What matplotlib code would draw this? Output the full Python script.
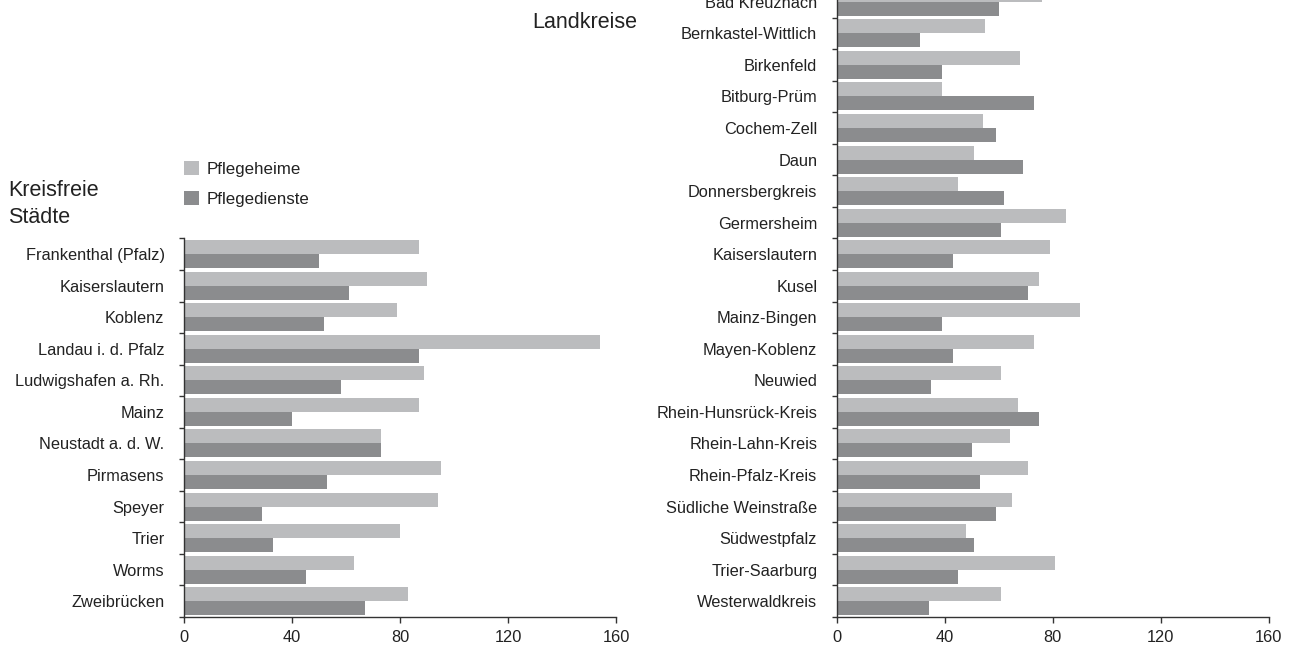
import numpy as np
import matplotlib.pyplot as plt

plt.rcParams['font.family'] = ['Liberation Sans', 'DejaVu Sans']

staedte = ['Frankenthal (Pfalz)', 'Kaiserslautern', 'Koblenz', 'Landau i. d. Pfalz',
           'Ludwigshafen a. Rh.', 'Mainz', 'Neustadt a. d. W.', 'Pirmasens',
           'Speyer', 'Trier', 'Worms', 'Zweibrücken']
staedte_heime = [87, 90, 79, 154, 89, 87, 73, 95, 94, 80, 63, 83]
staedte_dienste = [50, 61, 52, 87, 58, 40, 73, 53, 29, 33, 45, 67]

kreise = ['Bad Kreuznach', 'Bernkastel-Wittlich', 'Birkenfeld', 'Bitburg-Prüm',
          'Cochem-Zell', 'Daun', 'Donnersbergkreis', 'Germersheim', 'Kaiserslautern',
          'Kusel', 'Mainz-Bingen', 'Mayen-Koblenz', 'Neuwied', 'Rhein-Hunsrück-Kreis',
          'Rhein-Lahn-Kreis', 'Rhein-Pfalz-Kreis', 'Südliche Weinstraße',
          'Südwestpfalz', 'Trier-Saarburg', 'Westerwaldkreis']
kreise_heime = [76, 55, 68, 39, 54, 51, 45, 85, 79, 75, 90, 73, 61, 67, 64, 71, 65, 48, 81, 61]
kreise_dienste = [60, 31, 39, 73, 59, 69, 62, 61, 43, 71, 39, 43, 35, 75, 50, 53, 59, 51, 45, 34]

hell = '#bbbcbe'
dunkel = '#8b8c8e'
txt = '#222222'

W, H = 1293, 646
fig = plt.figure(figsize=(W / 100, H / 100), dpi=100)

unit = 31.55  # Pixel pro Kategorie
bottom_px = 617
fs = 11.8


def panel(left_px, names, heime, dienste):
    n = len(names)
    top_px = bottom_px - n * unit
    ax = fig.add_axes([left_px / W, (H - bottom_px) / H, 432 / W, (bottom_px - top_px) / H])
    y = np.arange(n)
    h = 0.443
    b1 = ax.barh(y - h / 2, heime, height=h, color=hell, label='Pflegeheime')
    b2 = ax.barh(y + h / 2, dienste, height=h, color=dunkel, label='Pflegedienste')
    ax.set_ylim(n - 0.5, -0.5)
    ax.set_xlim(0, 160)
    ax.set_xticks([0, 40, 80, 120, 160])
    ax.set_yticks(np.arange(n + 1) - 0.5)
    ax.set_yticklabels([])
    ax.set_yticks(y, minor=True)
    ax.set_yticklabels(names, minor=True)
    ax.tick_params(axis='y', which='minor', length=0, pad=14, labelsize=fs, labelcolor=txt)
    ax.tick_params(axis='y', which='major', length=3.5, width=1, color='#333333')
    ax.tick_params(axis='x', length=4, width=1, color='#333333', pad=5.5,
                   labelsize=fs, labelcolor=txt)
    for s in ['top', 'right']:
        ax.spines[s].set_visible(False)
    for s in ['left', 'bottom']:
        ax.spines[s].set_color('#333333')
        ax.spines[s].set_linewidth(1)
    return ax, b1, b2


ax1, b1, b2 = panel(184, staedte, staedte_heime, staedte_dienste)
ax2, _, _ = panel(836.7, kreise, kreise_heime, kreise_dienste)

fig.text(8 / W, 1 - 204 / H, 'Kreisfreie\nStädte', fontsize=15.5, color=txt,
         ha='left', va='center', linespacing=1.4)
fig.text(637 / W, 1 - 22 / H, 'Landkreise', fontsize=15.5, color=txt,
         ha='right', va='center')

fig.legend(handles=[b1, b2], loc='upper left', bbox_to_anchor=(184 / W, 1 - 161 / H),
           frameon=False, fontsize=12.2, handlelength=0.89, handleheight=0.89,
           handletextpad=0.42, labelspacing=0.83, borderpad=0, borderaxespad=0,
           labelcolor=txt)

fig.savefig('out.png', dpi=100)
